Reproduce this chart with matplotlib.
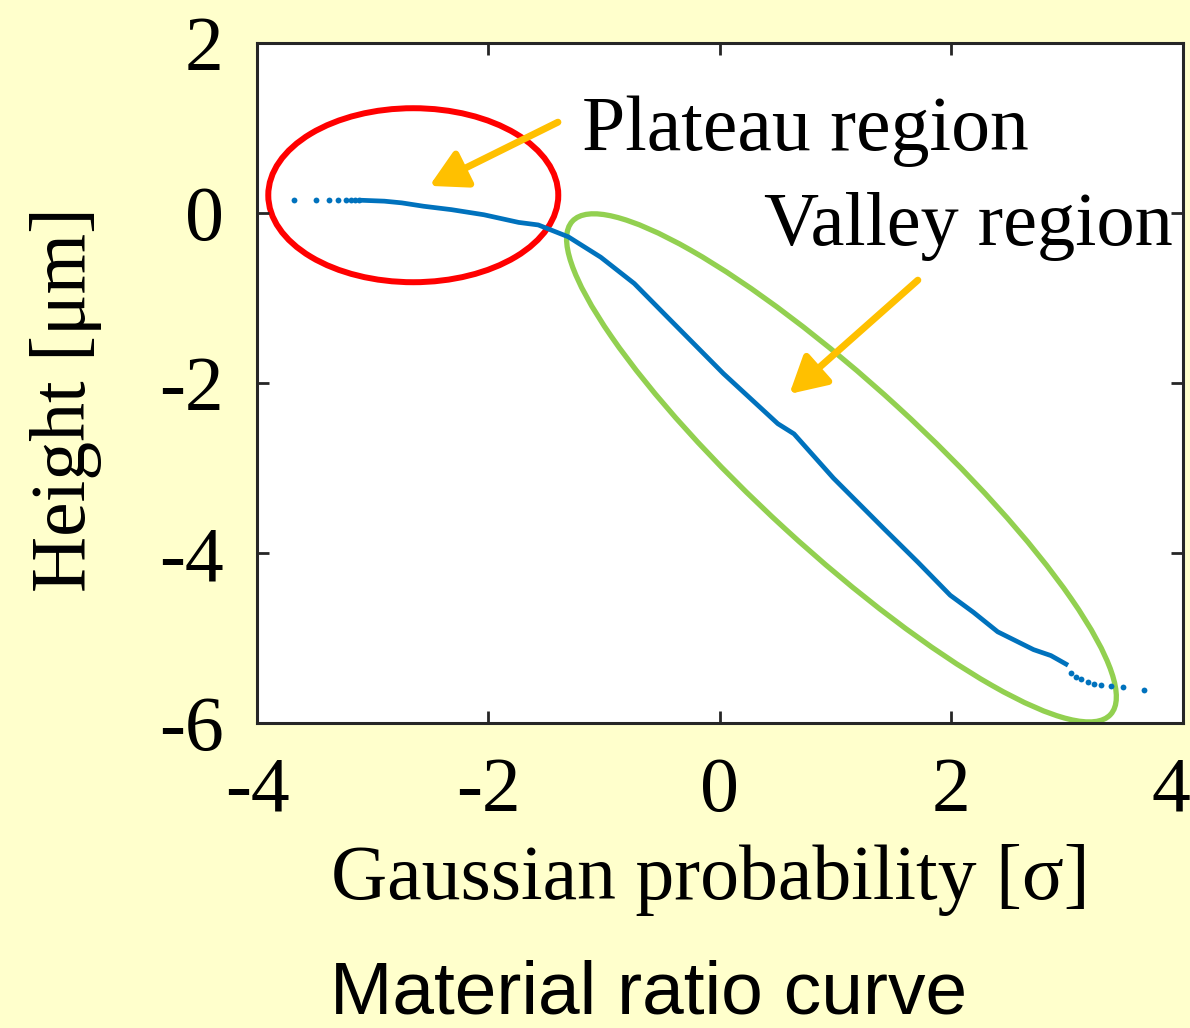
import matplotlib
matplotlib.use("Agg")
import matplotlib.pyplot as plt
from matplotlib.patches import Ellipse
from matplotlib.transforms import ScaledTranslation

plt.rcParams['axes.unicode_minus'] = False
plt.rcParams['font.family'] = ['Liberation Serif', 'DejaVu Serif']

# === Data ===
curve_x = [-3.09, -2.90, -2.75, -2.56, -2.32, -2.04, -1.74, -1.57, -1.31, -1.03,
           -0.74, -0.45, 0.03, 0.50, 0.64, 0.98, 1.42, 1.71, 1.99, 2.19,
           2.40, 2.71, 2.86, 2.99]
curve_y = [0.15, 0.14, 0.12, 0.08, 0.04, -0.02, -0.11, -0.14, -0.28, -0.52,
           -0.83, -1.23, -1.89, -2.48, -2.60, -3.12, -3.72, -4.11, -4.50, -4.70,
           -4.93, -5.14, -5.21, -5.31]

# sparse tail points (single dots)
tail_left_x = [-3.68, -3.49, -3.38, -3.30, -3.23, -3.19, -3.15, -3.12]
tail_left_y = [0.15, 0.15, 0.15, 0.15, 0.15, 0.15, 0.15, 0.15]
tail_right_x = [3.03, 3.08, 3.12, 3.18, 3.23, 3.29, 3.38, 3.48, 3.66]
tail_right_y = [-5.42, -5.46, -5.49, -5.52, -5.55, -5.56, -5.57, -5.58, -5.61]

x_ticks = [-4, -2, 0, 2, 4]
y_ticks = [-6, -4, -2, 0, 2]

blue = "#0072BD"
orange = "#FFC000"
fs = 56

fig = plt.figure(figsize=(11.9, 10.28), dpi=100, facecolor="#FFFFCC")
ax = fig.add_axes([0.216, 0.297, 0.778, 0.661])
ax.set_facecolor("white")

ax.plot(curve_x, curve_y, color=blue, lw=3.4, solid_joinstyle="round")
ax.plot(tail_left_x, tail_left_y, "o", color=blue, ms=4.2, mew=0)
ax.plot(tail_right_x, tail_right_y, "o", color=blue, ms=4.2, mew=0)

ax.set_xlim(-4, 4)
ax.set_ylim(-6, 2)
ax.set_xticks(x_ticks)
ax.set_yticks(y_ticks)
ax.tick_params(direction="in", length=8.5, width=2, top=True, right=True,
               labelsize=fs, pad=24, color="#262626")
for s in ax.spines.values():
    s.set_linewidth(2.2)
    s.set_color("#262626")

# last x label sits at the figure edge, nudge it in a little
last = ax.get_xticklabels()[-1]
last.set_transform(last.get_transform() + ScaledTranslation(-0.12, 0, fig.dpi_scale_trans))

ax.set_xlabel("Gaussian probability [σ]", fontsize=fs)
ax.set_ylabel("Height [μm]", fontsize=fs)
ax.xaxis.set_label_coords(0.49, -0.178)
ax.yaxis.set_label_coords(-0.168, 0.475)

# === Highlight regions (sizes in inches on screen, centred at data points) ===
red_ell = Ellipse((0, 0), 2.9, 1.74, fill=False, ec="red", lw=4.3,
                  transform=fig.dpi_scale_trans + ScaledTranslation(-2.65, 0.21, ax.transData))
green_ell = Ellipse((0, 0), 7.3, 1.66, angle=-42.5, fill=False, ec="#92D050", lw=3.8,
                    transform=fig.dpi_scale_trans + ScaledTranslation(1.05, -3.0, ax.transData))
ax.add_patch(red_ell)
ax.add_patch(green_ell)

ax.annotate("", xy=(-2.51, 0.32), xytext=(-1.40, 1.07),
            arrowprops=dict(arrowstyle="-|>,head_length=1.0,head_width=0.55",
                            color=orange, lw=5, mutation_scale=22,
                            shrinkA=0, shrinkB=0))
ax.annotate("", xy=(0.60, -2.13), xytext=(1.71, -0.79),
            arrowprops=dict(arrowstyle="-|>,head_length=1.0,head_width=0.55",
                            color=orange, lw=5, mutation_scale=22,
                            shrinkA=0, shrinkB=0))

ax.text(-1.19, 0.74, "Plateau region", fontsize=fs, va="baseline", ha="left")
ax.text(0.38, -0.38, "Valley region", fontsize=55, va="baseline", ha="left",
        clip_on=False)

fig.text(0.545, 0.014, "Material ratio curve", fontsize=54, ha="center",
         va="baseline", family="Liberation Sans")

fig.savefig("out.png", dpi=100, facecolor=fig.get_facecolor())
